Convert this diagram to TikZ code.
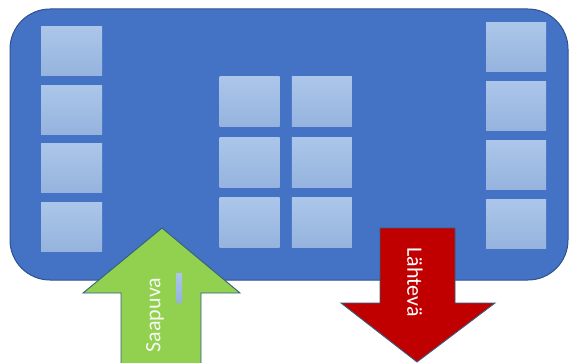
\documentclass[tikz,border=0pt]{standalone}
\usepackage{fontspec}
\setmainfont{Carlito}
\usetikzlibrary{positioning}

\definecolor{hallfill}{HTML}{4472C4}
\definecolor{halledge}{HTML}{2F528F}
\definecolor{boxtop}{HTML}{ABC6E9}
\definecolor{boxbottom}{HTML}{95B3DE}
\definecolor{infill}{HTML}{92D050}
\definecolor{outfill}{HTML}{C00000}
\definecolor{arrowedge}{HTML}{35607F}

\begin{document}
\begin{tikzpicture}[x=1pt,y=-1pt]
\tikzset{hall/.style={draw=halledge, line width=1pt, fill=hallfill, rounded corners=40pt, inner sep=0pt}}
\tikzset{shelf/.style={minimum width=61pt, minimum height=49pt, inner sep=0pt, top color=boxtop, bottom color=boxbottom}}
\tikzset{midshelf/.style={shelf, minimum width=60pt, minimum height=50pt}}
\tikzset{blockarrow/.style={draw=arrowedge, line width=0.9pt, line join=miter}}
\tikzset{lbl/.style={text=white, font=\fontsize{22}{24}\selectfont, inner sep=0pt}}
\useasboundingbox (0,0) rectangle (569,363);

% warehouse floor
\node[hall, minimum width=558pt, minimum height=271pt] (hall) at (289,144.5) {};

% left rack
\node[shelf] (l1) at (71.5,51.5) {};
\foreach \i [remember=\i as \j (initially 1)] in {2,3,4}
  \node[shelf, below=9pt of l\j] (l\i) {};

% right rack
\node[shelf, minimum width=60pt] (r1) at (516,47.5) {};
\foreach \i [remember=\i as \j (initially 1)] in {2,3,4}
  \node[shelf, minimum width=60pt, below=9.5pt of r\j] (r\i) {};

% middle block
\node[midshelf] (m1) at (249.5,102) {};
\node[midshelf, right=12pt of m1] (n1) {};
\foreach \i [remember=\i as \j (initially 1)] in {2,3} {
  \node[midshelf, below=10pt of m\j] (m\i) {};
  \node[midshelf, right=12pt of m\i] (n\i) {};
}

% incoming
\fill[infill] (121,366) -- (121,293) -- (83,293) -- (162,228) -- (240,293) -- (201,293) -- (201,366) -- cycle;
\draw[blockarrow] (121,366) -- (121,293) -- (83,293) -- (162,228) -- (240,293) -- (201,293) -- (201,366);
\node[lbl, rotate=90, text=white!92!infill] (saapuva) at (155,315) {Saapuva};
\node[inner sep=0pt, minimum width=6pt, minimum height=29pt, top color=boxtop, bottom color=boxbottom] (cursor) at (179,287.5) {};

% outgoing
\draw[blockarrow, fill=outfill] (380,228) -- (455,228) -- (455,303) -- (495,303) -- (417,362) -- (341,303) -- (380,303) -- cycle;
\node[lbl, rotate=-90] (lahteva) at (415,282) {Lähtevä};
\end{tikzpicture}
\end{document}
